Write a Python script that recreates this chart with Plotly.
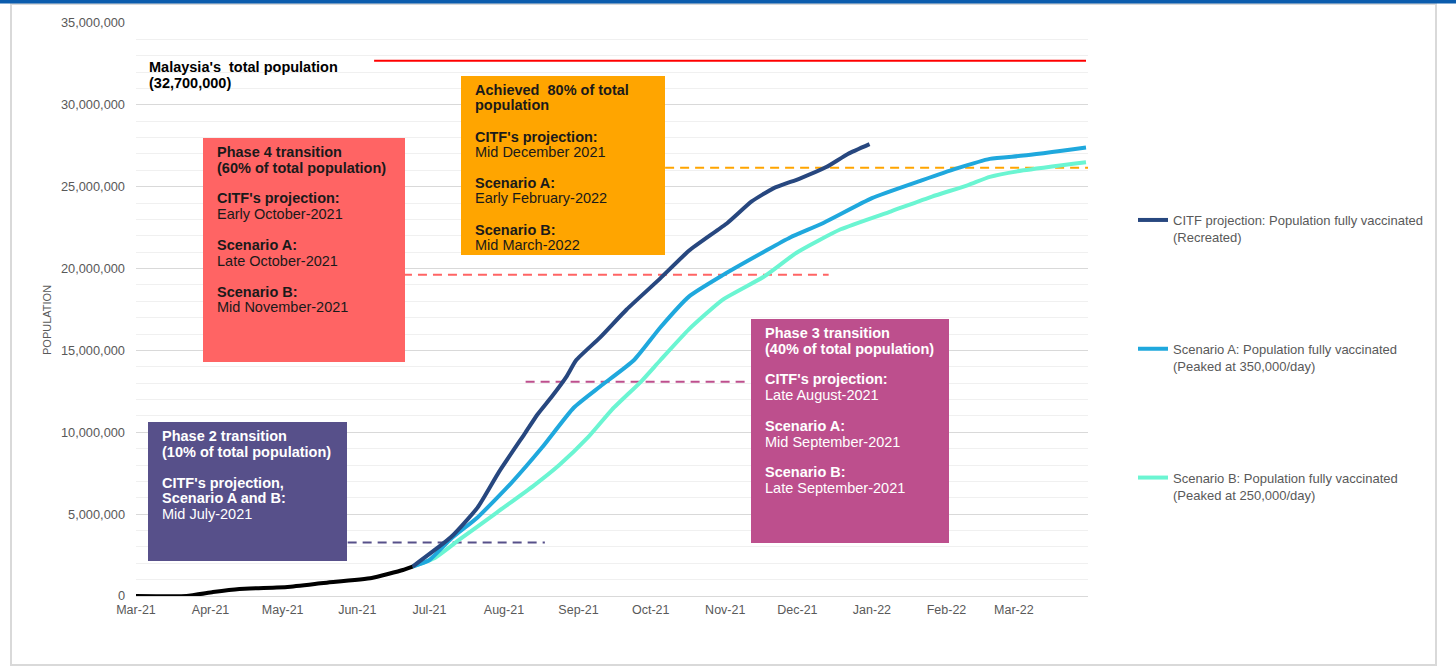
import plotly.graph_objects as go

# ---------------------------------------------------------------------------
# Data
# ---------------------------------------------------------------------------
TOTAL_POPULATION = 32_700_000

# Actual people fully vaccinated (to late June 2021)
hist_dates = ["2021-03-01", "2021-03-22", "2021-04-02", "2021-04-13", "2021-05-03",
              "2021-05-18", "2021-06-07", "2021-06-20", "2021-06-24"]
hist_values = [0, 0, 240_000, 430_000, 550_000, 790_000, 1_100_000, 1_590_000, 1_800_000]

# CITF projection (recreated)
citf_dates = ["2021-06-24", "2021-07-10", "2021-07-21", "2021-07-30", "2021-08-10",
              "2021-08-15", "2021-08-21", "2021-08-27", "2021-08-31", "2021-09-10",
              "2021-09-21", "2021-10-05", "2021-10-17", "2021-11-02", "2021-11-12",
              "2021-11-21", "2021-12-02", "2021-12-13", "2021-12-22", "2021-12-31"]
citf_values = [1_800_000, 3_600_000, 5_400_000, 7_600_000, 10_000_000,
               11_100_000, 12_200_000, 13_400_000, 14_400_000, 15_800_000,
               17_500_000, 19_400_000, 21_100_000, 22_800_000, 24_100_000,
               24_900_000, 25_500_000, 26_200_000, 27_000_000, 27_600_000]

# Scenario A: peaked at 350,000 doses/day
scen_a_dates = ["2021-06-24", "2021-07-01", "2021-07-10", "2021-07-21", "2021-08-04",
                "2021-08-17", "2021-08-30", "2021-09-10", "2021-09-24", "2021-10-05",
                "2021-10-17", "2021-10-31", "2021-11-18", "2021-11-28", "2021-12-12",
                "2022-01-01", "2022-01-22", "2022-02-05", "2022-02-19", "2022-03-05",
                "2022-03-31"]
scen_a_values = [1_800_000, 2_200_000, 3_500_000, 4_800_000, 6_900_000,
                 9_100_000, 11_500_000, 12_800_000, 14_400_000, 16_400_000,
                 18_300_000, 19_600_000, 21_100_000, 21_900_000, 22_800_000,
                 24_300_000, 25_400_000, 26_100_000, 26_700_000, 26_900_000,
                 27_400_000]

# Scenario B: peaked at 250,000 doses/day
scen_b_dates = ["2021-06-24", "2021-07-03", "2021-07-14", "2021-07-29", "2021-08-13",
                "2021-08-24", "2021-09-05", "2021-09-15", "2021-09-27", "2021-10-05",
                "2021-10-17", "2021-10-31", "2021-11-17", "2021-12-01", "2021-12-19",
                "2022-01-09", "2022-01-26", "2022-02-10", "2022-02-19", "2022-03-05",
                "2022-03-31"]
scen_b_values = [1_800_000, 2_300_000, 3_500_000, 5_100_000, 6_700_000,
                 8_000_000, 9_700_000, 11_400_000, 13_100_000, 14_400_000,
                 16_300_000, 18_100_000, 19_500_000, 21_000_000, 22_400_000,
                 23_500_000, 24_400_000, 25_100_000, 25_600_000, 26_000_000,
                 26_500_000]

# Milestone thresholds (share of total population) and the date span of each guide line
milestone_shares = [0.10, 0.40, 0.60, 0.80]
milestone_starts = ["2021-05-28", "2021-08-10", "2021-06-20", "2021-10-07"]
milestone_ends = ["2021-08-18", "2021-11-11", "2021-12-14", "2022-04-01"]
total_line_span = ["2021-06-08", "2022-03-31"]

month_ticks_start = "2021-03-01"
x_range = ["2021-03-01", "2022-03-31 20:00"]
y_max = 35_000_000

# ---------------------------------------------------------------------------
# Styling
# ---------------------------------------------------------------------------
FONT = "Liberation Sans, Arial, sans-serif"
GREY_TEXT = "#595959"
NAVY = "#27477F"
SKY = "#1FA8DD"
AQUA = "#6BF5D2"
PURPLE = "#57508A"
MAGENTA = "#BD4F8D"
SALMON = "#FF6464"
ORANGE = "#FFA500"
milestone_colors = [PURPLE, MAGENTA, SALMON, ORANGE]

BOX_FONT = 14.5
LINE_STEP = 15.5  # pixel spacing between text lines inside the boxes

# plot area in pixels (1456 x 668 page)
L, R, T, B = 136, 1088, 23, 596


def px(xp):
    return (xp - L) / (R - L)


def py(yp):
    return (B - yp) / (B - T)


fig = go.Figure()

# Milestone guide lines and total-population line
for share, c, x0, x1 in zip(milestone_shares, milestone_colors, milestone_starts, milestone_ends):
    fig.add_trace(go.Scatter(
        x=[x0, x1], y=[share * TOTAL_POPULATION] * 2, mode="lines",
        line=dict(color=c, width=2, dash="9px,6px"),
        showlegend=False, hoverinfo="skip"))

fig.add_trace(go.Scatter(
    x=total_line_span, y=[TOTAL_POPULATION] * 2, mode="lines",
    line=dict(color="#FF0000", width=2), showlegend=False, hoverinfo="skip"))

# Projection curves
fig.add_trace(go.Scatter(
    x=scen_b_dates, y=scen_b_values, mode="lines",
    name="Scenario B: Population fully vaccinated<br>(Peaked at 250,000/day)",
    line=dict(color=AQUA, width=4, shape="spline", smoothing=0.5),
    legendgroup="b", legendrank=3))
fig.add_trace(go.Scatter(
    x=scen_a_dates, y=scen_a_values, mode="lines",
    name="Scenario A: Population fully vaccinated<br>(Peaked at 350,000/day)",
    line=dict(color=SKY, width=4, shape="spline", smoothing=0.5),
    legendgroup="a", legendrank=2))
fig.add_trace(go.Scatter(
    x=citf_dates, y=citf_values, mode="lines",
    name="CITF projection: Population fully vaccinated<br>(Recreated)",
    line=dict(color=NAVY, width=4, shape="spline", smoothing=0.5),
    legendgroup="citf", legendrank=1))
fig.add_trace(go.Scatter(
    x=hist_dates, y=hist_values, mode="lines",
    line=dict(color="#000000", width=4, shape="spline", smoothing=0.4),
    showlegend=False))

# Annotation boxes: (left, top, right, bottom) in pixels, fill, text colour, lines
# Each line is (text, bold); None marks an empty line.
boxes = [
    ((203, 138, 405, 362), SALMON, "#1A1A1A",
     [("Phase 4 transition", True), ("(60% of total population)", True), None,
      ("CITF's projection:", True), ("Early October-2021", False), None,
      ("Scenario A:", True), ("Late October-2021", False), None,
      ("Scenario B:", True), ("Mid November-2021", False)]),
    ((461, 76, 665, 255), ORANGE, "#1A1A1A",
     [("Achieved  80% of total", True), ("population", True), None,
      ("CITF's projection:", True), ("Mid December 2021", False), None,
      ("Scenario A:", True), ("Early February-2022", False), None,
      ("Scenario B:", True), ("Mid March-2022", False)]),
    ((751, 319, 949, 543), MAGENTA, "#FFFFFF",
     [("Phase 3 transition", True), ("(40% of total population)", True), None,
      ("CITF's projection:", True), ("Late August-2021", False), None,
      ("Scenario A:", True), ("Mid September-2021", False), None,
      ("Scenario B:", True), ("Late September-2021", False)]),
    ((148, 422, 347, 561), PURPLE, "#FFFFFF",
     [("Phase 2 transition", True), ("(10% of total population)", True), None,
      ("CITF's projection,", True), ("Scenario A and B:", True), ("Mid July-2021", False)]),
]

shapes = []
annotations = []


def add_lines(left, first_center, lines, color, step=LINE_STEP):
    for i, item in enumerate(lines):
        if item is None:
            continue
        text, bold = item
        annotations.append(dict(
            xref="paper", yref="paper", x=px(left), y=py(first_center + i * step),
            xanchor="left", yanchor="middle", align="left", showarrow=False,
            text=f"<b>{text}</b>" if bold else text,
            font=dict(family=FONT, size=BOX_FONT, color=color)))


for (x0, y0, x1, y1), fill, tcol, lines in boxes:
    shapes.append(dict(type="rect", xref="paper", yref="paper",
                       x0=px(x0), x1=px(x1), y0=py(y1), y1=py(y0),
                       fillcolor=fill, line=dict(width=0), layer="above"))
    add_lines(x0 + 12, y0 + 14, lines, tcol)

add_lines(147, 67, [("Malaysia's  total population", True), ("(32,700,000)", True)],
          "#000000", step=16)

annotations.append(dict(xref="paper", yref="paper", x=px(47), y=py(320),
                        xanchor="center", yanchor="middle", showarrow=False, textangle=-90,
                        text="POPULATION", font=dict(family=FONT, size=11, color=GREY_TEXT)))

# Page frame and top accent bar
shapes.append(dict(type="rect", xref="paper", yref="paper",
                   x0=px(11), x1=px(1436), y0=py(665), y1=py(4),
                   line=dict(color="#D9D9D9", width=2), fillcolor="rgba(0,0,0,0)", layer="below"))
shapes.append(dict(type="rect", xref="paper", yref="paper",
                   x0=px(0), x1=px(1456), y0=py(3.5), y1=py(0),
                   line=dict(width=0), fillcolor="#0B5CAD", layer="above"))

fig.update_layout(
    width=1456, height=668,
    margin=dict(l=L, r=1456 - R, t=T, b=668 - B),
    paper_bgcolor="#FFFFFF", plot_bgcolor="#FFFFFF",
    font=dict(family=FONT, size=12, color=GREY_TEXT),
    shapes=shapes, annotations=annotations,
    legend=dict(x=px(1133), y=py(205), xanchor="left", yanchor="top",
                tracegroupgap=92, valign="top", bgcolor="rgba(0,0,0,0)",
                font=dict(family=FONT, size=13, color=GREY_TEXT)),
    xaxis=dict(type="date", range=x_range, tick0=month_ticks_start, dtick="M1",
               tickformat="%b-%y", showgrid=False, showline=True, linecolor="#D9D9D9",
               linewidth=1, ticks="", ticklabelstandoff=2,
               tickfont=dict(size=12.5, color=GREY_TEXT),
               zeroline=False, fixedrange=True),
    yaxis=dict(range=[0, y_max], dtick=5_000_000, tickformat=",", showgrid=True,
               gridcolor="#D9D9D9", gridwidth=1, zeroline=False, showline=False,
               ticks="", ticklabelstandoff=10, tickfont=dict(size=12.8, color=GREY_TEXT),
               minor=dict(dtick=1_000_000, showgrid=True, gridcolor="#F0F0F0", gridwidth=1),
               fixedrange=True),
    showlegend=True,
)

fig.write_html("out.html")
